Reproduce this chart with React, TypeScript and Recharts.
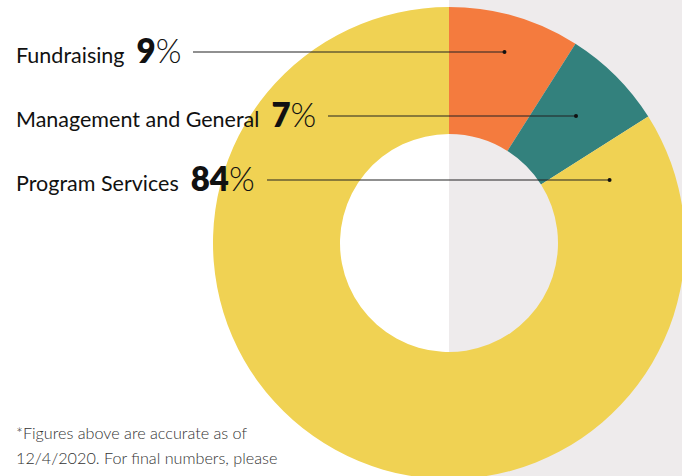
import { Cell, Pie, PieChart } from "recharts";

const categories = ["Fundraising", "Management and General", "Program Services"];
const shares = [9, 7, 84];
const colors = ["#F47B3E", "#33817D", "#F0D253"];

const footnote = [
  "*Figures above are accurate as of",
  "12/4/2020. For final numbers, please",
  "see our most recent audited financial",
];

const data = categories.map((name, i) => ({ name, value: shares[i] }));

const FONT = "Lato, 'Open Sans', sans-serif";
const ROW_BASE = 63;
const ROW_GAP = 64;
const RAD = Math.PI / 180;

// where each leader line starts, just past the percentage text
const lineStarts = [193, 328, 267];

function LegendLabel(props: any) {
  const { cx, cy, midAngle, innerRadius, outerRadius, index, name, value } = props;
  const baseline = ROW_BASE + index * ROW_GAP;
  const lineY = baseline - 11;
  const s = Math.sin(midAngle * RAD);
  const c = Math.cos(midAngle * RAD);
  let dotX: number;
  const r = s > 0 ? (cy - lineY) / s : -1;
  if (r > innerRadius && r < outerRadius) {
    // point on the slice's mid ray at the row height
    dotX = cx + r * c;
  } else {
    // slice mid ray misses the row, sit on the middle of the ring instead
    const mid = (innerRadius + outerRadius) / 2;
    dotX = cx + Math.sqrt(mid * mid - (cy - lineY) * (cy - lineY));
  }
  return (
    <g>
      <text x={16} y={baseline} fontFamily={FONT} fontSize={21.5} fill="#111">
        {name}
        <tspan dx={12} fontSize={33} fontWeight={800}>{value}</tspan>
        <tspan fontSize={33} fontWeight={300}>%</tspan>
      </text>
      <line x1={lineStarts[index]} y1={lineY} x2={dotX} y2={lineY} stroke="#222" strokeWidth={1.2} />
      <circle cx={dotX} cy={lineY} r={2} fill="#111" />
    </g>
  );
}

export default function App() {
  return (
    <div
      style={{
        position: "absolute",
        top: 0,
        left: 0,
        width: 682,
        height: 476,
        overflow: "hidden",
        background: "#fff",
      }}
    >
      <div
        style={{
          position: "absolute",
          left: 449,
          top: 0,
          width: 233,
          height: 476,
          background: "#EEEBEC",
        }}
      />
      <div style={{ position: "absolute", left: 0, top: 0 }}>
        <PieChart width={682} height={476} margin={{ top: 0, right: 0, bottom: 0, left: 0 }}>
          <Pie
            data={data}
            dataKey="value"
            nameKey="name"
            cx={449}
            cy={243}
            innerRadius={109}
            outerRadius={236}
            startAngle={90}
            endAngle={-270}
            stroke="none"
            label={LegendLabel}
            labelLine={false}
            isAnimationActive={false}
          >
            {data.map((d, i) => (
              <Cell key={d.name} fill={colors[i]} />
            ))}
          </Pie>
        </PieChart>
      </div>
      <div
        style={{
          position: "absolute",
          left: 16,
          top: 420,
          width: 300,
          fontFamily: FONT,
          fontSize: 16.2,
          lineHeight: "25px",
          color: "#333",
          fontWeight: 300,
        }}
      >
        {footnote.map((t) => (
          <div key={t} style={{ whiteSpace: "nowrap" }}>{t}</div>
        ))}
      </div>
    </div>
  );
}
